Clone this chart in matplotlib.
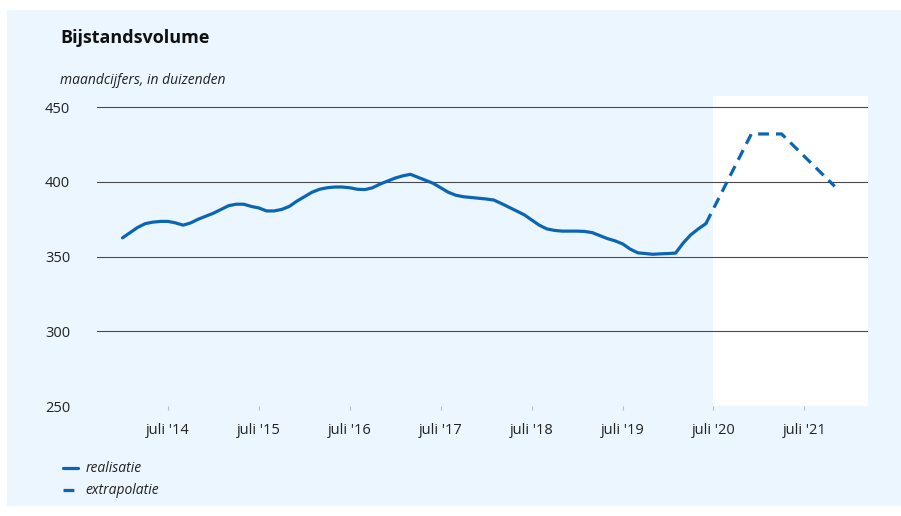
import matplotlib.pyplot as plt
import matplotlib.patches as mpatches

# maandcijfers vanaf januari 2014 (maand 0)
realisatie = [
    362.5, 366, 369.5, 372, 373, 373.5, 373.5, 372.5, 371, 372.5, 375, 377,
    379, 381.5, 384, 385, 385, 383.5, 382.5, 380.5, 380.5, 381.5, 383.5, 387,
    390, 393, 395, 396, 396.5, 396.5, 396, 395, 394.8, 396, 398.5, 400.5,
    402.5, 404, 405, 403, 401, 399, 396, 393, 391, 390, 389.5, 389,
    388.5, 387.8, 385.5, 383, 380.5, 378, 374.5, 371, 368.5, 367.5, 367, 367,
    367, 366.8, 366, 364, 362, 360.5, 358.5, 355, 352.5, 352, 351.5, 351.8,
    352, 352.3, 359, 364.5, 368.5, 372,
]
extrapolatie = [
    372, 382, 392, 402, 412, 422, 432, 432, 432, 432, 432, 427,
    422, 417, 412, 407, 402, 397,
]
extrapolatie_start = 77  # juni 2020

tick_months = [6, 18, 30, 42, 54, 66, 78, 90]
tick_labels = ["juli '14", "juli '15", "juli '16", "juli '17",
               "juli '18", "juli '19", "juli '20", "juli '21"]
y_ticks = [250, 300, 350, 400, 450]

blue = "#0a66b4"
panel = "#ebf6fe"
font = "Open Sans"

fig = plt.figure(figsize=(9.01, 5.16), dpi=100)
fig.patch.set_facecolor("white")
fig.add_artist(mpatches.Rectangle((7 / 901, 10 / 516), 894 / 901, 496 / 516,
                                  transform=fig.transFigure, facecolor=panel,
                                  edgecolor="none", zorder=-10))

ax = fig.add_axes([97 / 901, 110 / 516, 771 / 901, 310 / 516])
ax.set_facecolor("none")
ax.set_xlim(-3.37, 98.4)
ax.set_ylim(250, 457.4)

# witte achtergrond voor de extrapolatieperiode
ax.axvspan(78, 98.4, color="white", zorder=0, lw=0)

for v in y_ticks[1:]:
    ax.axhline(v, color="#4a4a4a", lw=0.8, zorder=1)
ax.axhline(250, color="#e2e8ec", lw=0.8, zorder=1)

x_real = list(range(len(realisatie)))
x_extra = list(range(extrapolatie_start, extrapolatie_start + len(extrapolatie)))
ax.plot(x_real, realisatie, color=blue, lw=2.3, solid_capstyle="round",
        label="realisatie", zorder=3)
ax.plot(x_extra, extrapolatie, color=blue, lw=2.3, dashes=(3.4, 2.2),
        label="extrapolatie", zorder=3)

for s in ax.spines.values():
    s.set_visible(False)

ax.set_xticks(tick_months)
ax.set_xticklabels(tick_labels, fontsize=10.5, family=font, color="#222222")
ax.tick_params(axis="x", length=3, width=0.8, color="#b8bcc0", pad=9)

ax.set_yticks(y_ticks)
ax.set_yticklabels([str(v) for v in y_ticks], fontsize=10.5, family=font,
                   color="#222222")
ax.tick_params(axis="y", length=0, pad=37.5)
for t in ax.get_yticklabels():
    t.set_horizontalalignment("left")

fig.text(60 / 901, 1 - 38 / 516, "Bijstandsvolume", fontsize=13, weight="bold",
         family=font, va="center", ha="left", color="#111111")
fig.text(60 / 901, 1 - 80 / 516, "maandcijfers, in duizenden", fontsize=10,
         style="italic", family=font, va="center", ha="left", color="#222222")

leg = ax.legend(loc="upper left", bbox_to_anchor=(50 / 901, 1 - 449 / 516),
                bbox_transform=fig.transFigure, frameon=False,
                handlelength=1.15, handletextpad=0.5, labelspacing=0.5,
                prop={"family": font, "style": "italic", "size": 10})
for t in leg.get_texts():
    t.set_color("#222222")

fig.savefig("out.png", dpi=100, facecolor="white")
